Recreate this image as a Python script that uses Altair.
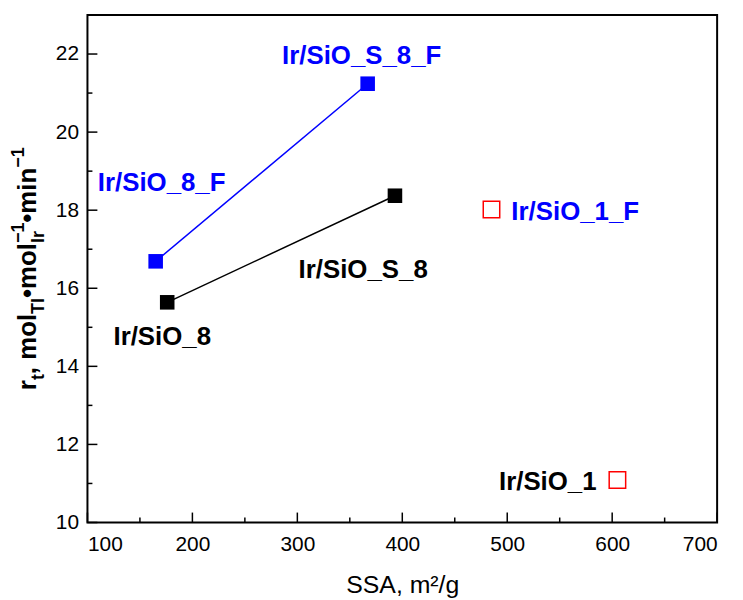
import altair as alt
import pandas as pd

# ---------------- data ----------------
sample_names = ["Ir/SiO_8_F", "Ir/SiO_S_8_F", "Ir/SiO_8", "Ir/SiO_S_8", "Ir/SiO_1_F", "Ir/SiO_1"]
ssa_values = [165, 367, 176, 393, 485, 605]
rate_values = [16.69, 21.24, 15.64, 18.37, 18.02, 11.09]
series_names = ["F", "F", "plain", "plain", "single", "single"]

x_ticks_major = [100, 200, 300, 400, 500, 600, 700]
x_ticks_minor = [150, 250, 350, 450, 550, 650]
y_ticks_major = [10, 12, 14, 16, 18, 20, 22]
y_ticks_minor = [11, 13, 15, 17, 19, 21]

x_title = "SSA, m\u00b2/g"
# y title pieces: (text, role)
y_title_pieces = [("r", "main"), ("t", "sub"), (", mol", "main"), ("TI", "sub"),
                  ("\u2022mol", "main"), ("\u22121", "sup"), ("Ir", "substack"),
                  ("\u2022min", "main"), ("\u22121", "sup")]

df = pd.DataFrame({"name": sample_names, "ssa": ssa_values, "rate": rate_values,
                   "series": series_names})

W, H = 634, 511
FONT = "Liberation Sans"
xscale = alt.Scale(domain=[100, 700], nice=False, zero=False)
yscale = alt.Scale(domain=[10, 23], nice=False, zero=False)

xaxis = alt.Axis(values=x_ticks_major, ticks=False, tickSize=0, domain=False, grid=False,
                 labelFontSize=21, labelPadding=11, labelColor="black", labelFont=FONT,
                 title=x_title, titleFontSize=25, titleFontWeight="normal", titleFont=FONT,
                 titleColor="black", titlePadding=18, format="d")
yaxis = alt.Axis(values=y_ticks_major, ticks=False, tickSize=0, domain=False, grid=False,
                 labelFontSize=21, labelPadding=9, labelColor="black", labelFont=FONT,
                 title=None, format="d")

X = alt.X("ssa:Q", scale=xscale, axis=xaxis)
Y = alt.Y("rate:Q", scale=yscale, axis=yaxis)

color_scale = alt.Scale(domain=["F", "plain"], range=["#0000ff", "#000000"])

lines = alt.Chart(df).transform_filter(
    alt.FieldOneOfPredicate(field="series", oneOf=["F", "plain"])
).mark_line(strokeWidth=1.5).encode(
    x=X, y=Y, color=alt.Color("series:N", scale=color_scale, legend=None)
)

filled = alt.Chart(df).transform_filter(
    alt.FieldOneOfPredicate(field="series", oneOf=["F", "plain"])
).mark_point(shape="square", filled=True, size=215, opacity=1).encode(
    x=X, y=Y, color=alt.Color("series:N", scale=color_scale, legend=None)
)

open_sq = alt.Chart(df).transform_filter(
    alt.datum.series == "single"
).mark_point(shape="square", filled=False, size=275, strokeWidth=1.5, color="#ff0000",
             opacity=1).encode(x=X, y=Y)

# labels: (name, color, align, dx, dy)
label_styles = [
    ("Ir/SiO_S_8_F", "#0000ff", "center", -6, -20),
    ("Ir/SiO_8_F", "#0000ff", "center", 6, -71),
    ("Ir/SiO_1_F", "#0000ff", "left", 20, 11),
    ("Ir/SiO_S_8", "#000000", "center", -32, 83),
    ("Ir/SiO_8", "#000000", "center", -5, 43),
    ("Ir/SiO_1", "#000000", "right", -21, 10),
]
label_layers = []
for nm, col, al, ddx, ddy in label_styles:
    label_layers.append(
        alt.Chart(df).transform_filter(alt.datum.name == nm).mark_text(
            align=al, baseline="alphabetic", dx=ddx, dy=ddy, fontSize=26,
            fontWeight="bold", font=FONT, color=col
        ).encode(x=X, y=Y, text="name:N")
    )

# inward ticks
def xticks(vals, length):
    return alt.Chart(pd.DataFrame({"ssa": vals})).mark_rule(color="black", strokeWidth=1.5).encode(
        x=X, y=alt.value(H), y2=alt.value(H - length))

def yticks(vals, length):
    return alt.Chart(pd.DataFrame({"rate": vals})).mark_rule(color="black", strokeWidth=1.5).encode(
        y=Y, x=alt.value(0), x2=alt.value(length))

tick_layers = [xticks(x_ticks_major, 10), xticks(x_ticks_minor, 5),
               yticks(y_ticks_major, 10), yticks(y_ticks_minor, 5)]

# y title built from pieces (rotated)
F_MAIN, F_SMALL = 26, 18
em = {"r": 0.389, "t": 0.333, ",": 0.278, " ": 0.278, "m": 0.889, "o": 0.611, "l": 0.278,
      "T": 0.611, "I": 0.278, "\u2022": 0.35, "i": 0.278, "n": 0.611, "\u2212": 0.584, "1": 0.556}
def width(s, fs):
    return sum(em.get(c, 0.55) for c in s) * fs

advances = []
for i, (txt, role) in enumerate(y_title_pieces):
    fs = F_MAIN if role == "main" else F_SMALL
    advances.append(width(txt, fs))
starts = []
pos = 0.0
prev_start = 0.0
for i, (txt, role) in enumerate(y_title_pieces):
    if role == "substack":
        starts.append(prev_start)
        pos = prev_start + max(advances[i], advances[i - 1])
    else:
        starts.append(pos)
        prev_start = pos
        pos += advances[i]
total = pos
base_x = -52
shift = {"main": 0, "sub": 8, "substack": 8, "sup": -12}
title_layers = []
y0 = H / 2 + total / 2
for (txt, role), st in zip(y_title_pieces, starts):
    fs = F_MAIN if role == "main" else F_SMALL
    title_layers.append(
        alt.Chart(pd.DataFrame({"t": [txt]})).mark_text(
            angle=270, align="left", baseline="alphabetic", fontSize=fs,
            fontWeight="bold", font=FONT, color="black"
        ).encode(x=alt.value(base_x + shift[role]), y=alt.value(y0 - st), text="t:N")
    )

chart = alt.layer(lines, filled, open_sq, *label_layers, *tick_layers, *title_layers).properties(
    width=W, height=H,
    padding={"left": 80, "top": 5, "right": 18, "bottom": 76},
    autosize=alt.AutoSizeParams(type="none"),
    background="white",
).configure_view(stroke="black", strokeWidth=2)

chart.save("out.html", embed_options={"renderer": "svg", "actions": False})
